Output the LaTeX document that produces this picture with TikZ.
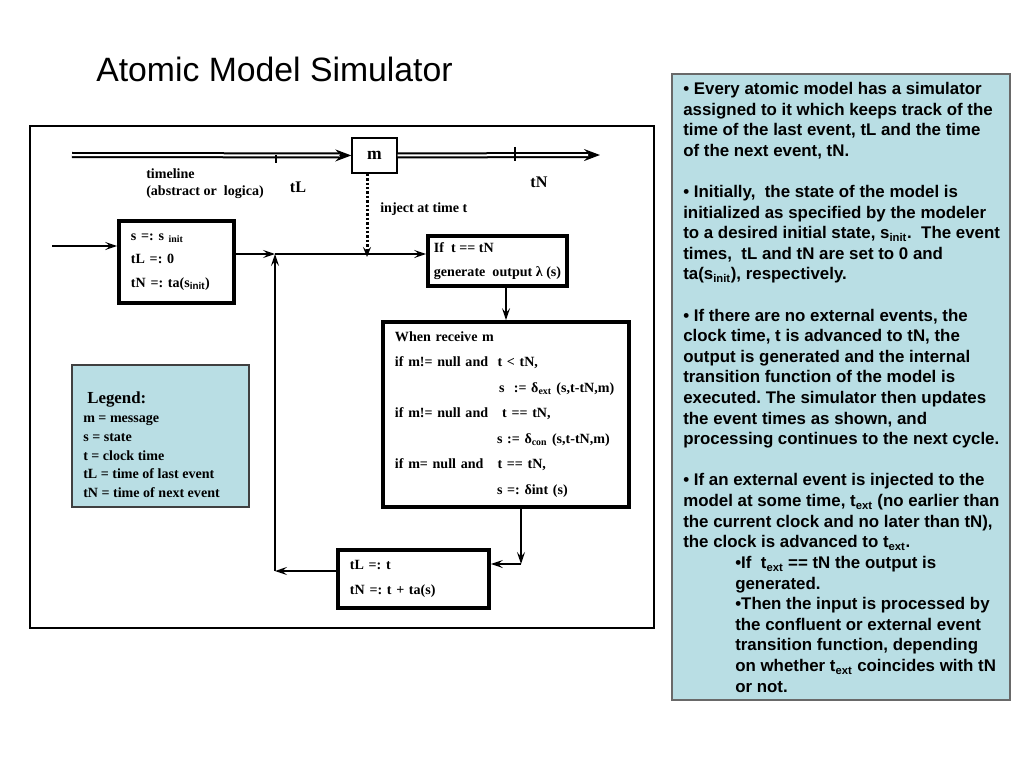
\documentclass[tikz,border=0pt]{standalone}
\usepackage{fontspec}
\setmainfont{Liberation Serif}
\newfontfamily\arialfont{Liberation Sans}
\usetikzlibrary{arrows.meta,positioning}
\definecolor{panelblue}{RGB}{185,222,228}
\definecolor{panelgray}{RGB}{105,105,105}
\frenchspacing

\tikzset{
  flow/.style={line width=0.04cm, -{Stealth[length=0.3cm,width=0.2cm,inset=0.12cm]}},
  timetip/.style={line width=0.04cm, -{Stealth[length=0.4cm,width=0.3cm,inset=0.14cm]}},
  timeline/.style={double, double distance=0.05cm, line width=0.05cm, shorten >=0.3cm},
  inject/.style={line width=0.075cm, dash pattern=on 0.06cm off 0.05cm, -{Stealth[length=0.25cm,width=0.2cm,inset=0.1cm]}},
  procbox/.style={draw, line width=0.09cm, align=left, inner xsep=0.3cm, inner ysep=0pt},
  lbl/.style={font=\fontsize{10}{12}\selectfont\bfseries, align=left, inner sep=0pt},
  note/.style={font=\arialfont\fontsize{12}{14.65}\selectfont\bfseries, align=left, inner sep=0pt},
}

\begin{document}
\begin{tikzpicture}[x=0.025cm, y=-0.025cm]
  \useasboundingbox (0,0) rectangle (1024,768);

  \node[anchor=base west, inner sep=0pt, font=\arialfont\fontsize{24}{28}\selectfont] (title) at (96,82) {Atomic Model Simulator};

  % simulator frame
  \draw[line width=0.03cm] (30,126) rectangle (654,628);

  % timeline
  \coordinate (tstart) at (72,155);
  \coordinate (tend) at (600,155);
  \node[draw, line width=0.035cm, minimum width=1.125cm, minimum height=0.875cm, inner sep=0pt, font=\fontsize{12.5}{14}\selectfont\bfseries] (m) at (374.5,155.5) {m};
  \draw[timetip] (tstart) -- (m);
  \draw[timeline] (tstart) -- (m);
  \draw[timetip] (m) -- (tend);
  \draw[timeline] (m) -- (tend);
  \draw[line width=0.03cm] (276,155) -- (276,163);
  \draw[line width=0.03cm] (515,147) -- (515,161);

  \node[lbl, anchor=west] (timelbl) at (146,183.5) {timeline\\(abstract or~ logica)};
  \node[lbl, font=\fontsize{11.5}{13}\selectfont\bfseries] (tllbl) at (298,187) {tL};
  \node[lbl, font=\fontsize{11.5}{13}\selectfont\bfseries] (tnlbl) at (539,182) {tN};
  \node[lbl, anchor=west] (injlbl) at (380,209) {inject at time t};

  % processing steps
  \node[procbox, text width=2.275cm, minimum height=2.05cm, font=\fontsize{10}{16.7}\selectfont\bfseries] (init) at (176.5,262)
    {s =: s \textsubscript{init}\\ tL =: 0\\ tN =: ta(s\textsubscript{\arialfont init})};
  \node[procbox, inner xsep=0pt, minimum width=3.475cm, minimum height=1.25cm, font=\fontsize{10}{17}\selectfont\bfseries] (test) at (497.5,261)
    {If~ t == tN\\ generate~ output λ (s)};
  \node[procbox, text width=5.55cm, minimum height=4.625cm, font=\fontsize{10}{18.1}\selectfont\bfseries] (when) at (506,414.5)
    {When receive m\\
     if m!= null and~ t < tN,\\
     \hspace*{2.6cm}s~ := δ\textsubscript{ext} (s,t-tN,m)\\
     if m!= null and~~ t == tN,\\
     \hspace*{2.55cm}s := δ\textsubscript{con} (s,t-tN,m)\\
     if m= null and~~ t == tN,\\
     \hspace*{2.55cm}s =: δint (s)};
  \node[procbox, text width=3.175cm, minimum height=1.45cm, font=\fontsize{10}{17.8}\selectfont\bfseries] (upd) at (413.5,579)
    {tL =: t\\ tN =: t + ta(s)};

  % connectors
  \coordinate (in) at (52,246);
  \coordinate (jn) at (275,254);
  \coordinate (back) at (275,571);
  \coordinate (turn) at (521,564);
  \coordinate (inj) at (367,257);

  \draw[flow] (in) -- (in -| init.west);
  \draw[flow] (init.east |- jn) -- (jn);
  \draw[flow] (jn) -- (jn -| test.west);
  \draw[flow] (back) -- (jn);
  \draw[flow] (upd.west |- back) -- (back);
  \draw[flow] (test.south -| when.north) -- (when.north);
  \draw[flow] (when.south -| turn) -- (turn);
  \draw[flow] (turn) -- (turn -| upd.east);
  \draw[inject] (m.south -| inj) -- (inj);

  % legend
  \node[draw=black!75, line width=0.03cm, fill=panelblue, minimum width=4.425cm, minimum height=3.55cm] (legend) at (160.5,436) {};
  \node[lbl, anchor=north west, font=\fontsize{10}{13.3}\selectfont\bfseries] (legendtxt) at (83,392)
    {\hspace*{0.1cm}{\fontsize{12}{14}\selectfont Legend:}\\
     m = message\\
     s = state\\
     t = clock time\\
     tL = time of last event\\
     tN = time of next event};

  % notes panel
  \node[draw=panelgray, line width=0.04cm, fill=panelblue, minimum width=8.45cm, minimum height=15.65cm] (panel) at (841,387) {};
  \node[note, anchor=north west] (notes) at (683,82) {%
    • Every atomic model has a simulator\\
    assigned to it which keeps track of the\\
    time of the last event, tL and the time\\
    of the next event, tN.\\[14.65pt]
    • Initially,~ the state of the model is\\
    initialized as specified by the modeler\\
    to a desired initial state, s\textsubscript{init}.~ The event\\
    times,~ tL and tN are set to 0 and\\
    ta(s\textsubscript{init}), respectively.\\[14.65pt]
    • If there are no external events, the\\
    clock time, t is advanced to tN, the\\
    output is generated and the internal\\
    transition function of the model is\\
    executed. The simulator then updates\\
    the event times as shown, and\\
    processing continues to the next cycle.\\[14.65pt]
    • If an external event is injected to the\\
    model at some time, t\textsubscript{ext} (no earlier than\\
    the current clock and no later than tN),\\
    the clock is advanced to t\textsubscript{ext}.};
  \node[note, anchor=north west] (subnotes) at (735,556) {%
    •If~ t\textsubscript{ext} == tN the output is\\
    generated.\\
    •Then the input is processed by\\
    the confluent or external event\\
    transition function, depending\\
    on whether t\textsubscript{ext} coincides with tN\\
    or not.};
\end{tikzpicture}
\end{document}
